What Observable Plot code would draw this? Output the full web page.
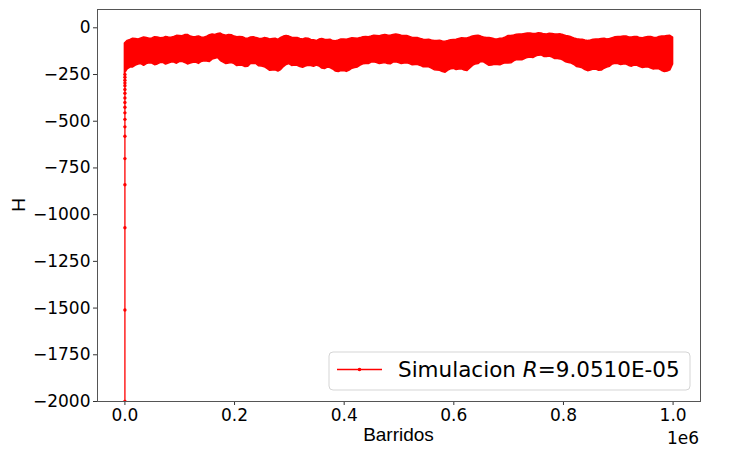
<!DOCTYPE html>
<html>
<head>
<meta charset="utf-8">
<script src="https://cdn.jsdelivr.net/npm/d3@7"></script>
<script src="https://cdn.jsdelivr.net/npm/@observablehq/plot@0.6"></script>
<style>
  body { margin: 0; background: #fff; }
  #chart { position: relative; width: 730px; height: 452px; }
</style>
</head>
<body>
<div id="chart"></div>
<script>
// Initial relaxation: energy of the first sweeps, starting from the ordered state
const transientSweeps = [0, 1, 2, 3, 4, 5, 6, 7, 8, 9, 10, 11, 12, 13, 14, 15, 16, 17, 18];
const transientH = [-2000, -1510, -1070, -840, -700, -580, -530, -490, -455, -425, -400, -375, -350, -330, -310, -295, -280, -265, -250];

// Equilibrium fluctuations: upper and lower envelope of H, one pair every 10 000 sweeps
const bandSweeps = d3.range(0, 1000001, 10000);
const bandHigh = [
  -84, -65, -60, -57, -55, -57, -52, -55, -52, -49,
  -44, -39, -47, -49, -52, -47, -36, -33, -39, -39,
  -47, -49, -57, -52, -55, -60, -57, -60, -65, -47,
  -47, -55, -60, -57, -65, -71, -60, -65, -71, -68,
  -63, -60, -57, -55, -49, -47, -44, -41, -41, -39,
  -39, -44, -49, -55, -60, -65, -68, -71, -73, -71,
  -65, -60, -57, -52, -44, -47, -55, -57, -63, -57,
  -44, -41, -36, -33, -30, -33, -30, -36, -33, -36,
  -39, -47, -57, -63, -68, -68, -63, -60, -63, -55,
  -49, -47, -52, -49, -55, -52, -49, -55, -47, -44,
  -52
];
const bandLow = [
  -245, -213, -202, -194, -194, -191, -196, -188, -191, -186,
  -183, -188, -191, -186, -183, -180, -170, -162, -186, -191,
  -194, -202, -210, -194, -194, -207, -220, -229, -234, -210,
  -194, -202, -210, -207, -204, -202, -218, -213, -223, -237,
  -231, -229, -215, -202, -194, -186, -188, -191, -194, -186,
  -188, -191, -194, -199, -204, -210, -218, -229, -237, -229,
  -220, -223, -229, -218, -196, -183, -194, -202, -199, -194,
  -191, -180, -172, -167, -159, -154, -148, -156, -159, -167,
  -175, -188, -199, -213, -226, -229, -223, -229, -213, -196,
  -194, -196, -204, -202, -210, -213, -218, -220, -231, -234,
  -196
];

// Envelope halfway between those samples (5 000, 15 000, ... sweeps)
const midSweeps = d3.range(5000, 1000000, 10000);
const midHigh = [
  -70, -58, -62, -52, -58, -50, -56, -49, -53, -43,
  -45, -38, -50, -46, -53, -40, -38, -31, -43, -40,
  -51, -50, -58, -50, -59, -55, -62, -58, -54, -44,
  -53, -54, -62, -58, -66, -63, -64, -64, -72, -62,
  -64, -56, -58, -50, -50, -43, -45, -38, -43, -36,
  -43, -44, -54, -55, -64, -64, -71, -69, -74, -66,
  -64, -56, -57, -46, -43, -52, -54, -61, -58, -52,
  -44, -37, -36, -30, -33, -29, -35, -32, -36, -35,
  -44, -51, -61, -64, -70, -64, -63, -59, -60, -50,
  -49, -46, -52, -49, -56, -49, -53, -49, -47, -43
];
const midLow = [
  -222, -212, -196, -203, -190, -200, -189, -197, -186, -192,
  -182, -196, -187, -193, -179, -183, -166, -178, -194, -189,
  -205, -203, -208, -192, -206, -211, -230, -228, -226, -199,
  -204, -203, -214, -203, -209, -207, -221, -215, -234, -232,
  -236, -219, -212, -195, -194, -185, -194, -189, -195, -184,
  -194, -190, -201, -199, -211, -211, -227, -230, -240, -222,
  -226, -222, -231, -204, -194, -185, -203, -198, -201, -190,
  -190, -173, -174, -161, -162, -149, -156, -154, -167, -169,
  -185, -191, -210, -217, -232, -224, -230, -219, -208, -192,
  -199, -197, -208, -203, -215, -212, -223, -222, -237, -228
];

const xTicks = [0, 200000, 400000, 600000, 800000, 1000000];
const yTicks = [0, -250, -500, -750, -1000, -1250, -1500, -1750, -2000];

const xLabel = "Barridos";
const yLabel = "H";
const xOffsetLabel = "1e6";
const seriesName = "Simulacion ";
const seriesParam = "R";
const seriesValue = "=9.0510E-05";

const RED = "#ff0000";

const band = [
  ...bandSweeps.map((x, i) => ({ x, hi: bandHigh[i], lo: bandLow[i] })),
  ...midSweeps.map((x, i) => ({ x, hi: midHigh[i], lo: midLow[i] }))
].sort((a, b) => a.x - b.x);
const transient = transientSweeps.map((x, i) => ({ x, h: transientH[i] }));

const fmtY = d => (d < 0 ? "\u2212" + Math.abs(d) : String(d));

const chart = Plot.plot({
  width: 730,
  height: 452,
  marginLeft: 97,
  marginRight: 30,
  marginTop: 9,
  marginBottom: 51,
  style: { fontFamily: "DejaVu Sans", fontSize: "17px", color: "#000", background: "#fff" },
  x: { domain: [-50000, 1050000] },
  y: { domain: [-2000, 98] },
  marks: [
    Plot.areaY(band, { x: "x", y1: "lo", y2: "hi", fill: RED, stroke: RED, strokeWidth: 1.5, clip: true }),
    Plot.line(transient, { x: "x", y: "h", stroke: RED, strokeWidth: 1.3, clip: true }),
    Plot.dot(transient, { x: "x", y: "h", r: 1.7, fill: RED, stroke: null, clip: true }),
    Plot.axisX({ ticks: xTicks, tickFormat: d => (d / 1e6).toFixed(1), tickSize: 4, tickPadding: 3, label: null, fontSize: 17, stroke: "#333" }),
    Plot.axisY({ ticks: yTicks, tickFormat: fmtY, tickSize: 4, tickPadding: 3, label: null, fontSize: 17, stroke: "#333" }),
    Plot.frame({ stroke: "#555", strokeWidth: 1 })
  ]
});

document.getElementById("chart").appendChild(chart);

// Axis titles, offset text and legend drawn into the same SVG
const svg = d3.select(chart);

svg.append("text")
  .attr("x", 398.5).attr("y", 441)
  .attr("text-anchor", "middle")
  .attr("font-family", "Liberation Sans, Arial, sans-serif")
  .attr("font-size", 19)
  .attr("fill", "#000")
  .text(xLabel);

svg.append("text")
  .attr("transform", "translate(25,205) rotate(-90)")
  .attr("text-anchor", "middle")
  .attr("font-family", "Liberation Sans, Arial, sans-serif")
  .attr("font-size", 19)
  .attr("fill", "#000")
  .text(yLabel);

svg.append("text")
  .attr("x", 699).attr("y", 444)
  .attr("text-anchor", "end")
  .attr("font-family", "DejaVu Sans")
  .attr("font-size", 17)
  .attr("fill", "#000")
  .text(xOffsetLabel);

const legend = svg.append("g");
legend.append("rect")
  .attr("x", 329).attr("y", 352).attr("width", 361).attr("height", 38)
  .attr("rx", 4)
  .attr("fill", "#fff").attr("fill-opacity", 0.8)
  .attr("stroke", "#d5d5d5");
legend.append("line")
  .attr("x1", 337).attr("x2", 382).attr("y1", 369.5).attr("y2", 369.5)
  .attr("stroke", RED).attr("stroke-width", 1.3);
legend.append("circle")
  .attr("cx", 359.5).attr("cy", 369.5).attr("r", 1.8).attr("fill", RED);
const lt = legend.append("text")
  .attr("x", 398).attr("y", 377)
  .attr("text-anchor", "start")
  .attr("font-family", "DejaVu Sans")
  .attr("font-size", 21.5)
  .attr("fill", "#000");
lt.append("tspan").text(seriesName).attr("xml:space", "preserve");
lt.append("tspan").attr("font-style", "italic").text(seriesParam);
lt.append("tspan").text(seriesValue);
</script>
</body>
</html>
